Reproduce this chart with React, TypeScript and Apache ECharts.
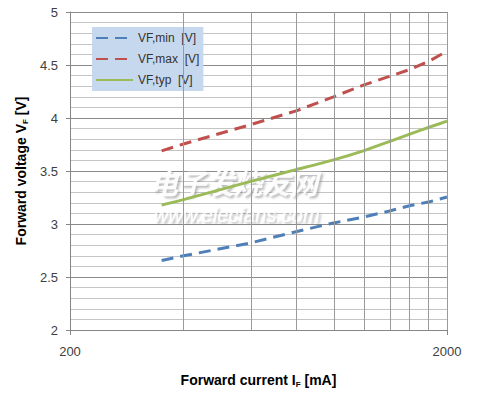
import React, { useEffect, useRef } from "react";
import * as echarts from "echarts";

const currents = [350, 400, 600, 800, 1000, 1200, 1400, 1600, 1800, 2000];
const vfMin = [2.655, 2.7, 2.82, 2.93, 3.01, 3.065, 3.12, 3.175, 3.21, 3.255];
const vfMax = [3.69, 3.755, 3.935, 4.07, 4.2, 4.31, 4.39, 4.46, 4.54, 4.63];
const vfTyp = [3.18, 3.23, 3.4, 3.515, 3.605, 3.69, 3.775, 3.85, 3.915, 3.97];
const gridCurrents = [400, 600, 800, 1000, 1200, 1400, 1600, 1800, 2000];
const seriesNames = ["VF,min  [V]", "VF,max  [V]", "VF,typ  [V]"];
const xBase = 200;

const lx = (i: number) => Math.log10(i / xBase);

export default function App() {
  const ref = useRef<HTMLDivElement>(null);
  useEffect(() => {
    if (!ref.current) return;
    const chart = echarts.init(ref.current, null, { renderer: "svg" });
    const font = "Liberation Sans, Arial, sans-serif";
    const pts = (ys: number[]) => currents.map((c, i) => [lx(c), ys[i]]);
    const nameRich = {
      a: { fontSize: 14, fontWeight: "bold", color: "#000", fontFamily: font, lineHeight: 17 },
      s: { fontSize: 8, fontWeight: "bold", color: "#000", fontFamily: font, verticalAlign: "bottom", lineHeight: 13 },
    };
    chart.setOption({
      animation: false,
      textStyle: { fontFamily: font },
      grid: { left: 70, right: 30, top: 12, bottom: 64 },
      legend: {
        left: 92,
        top: 27,
        orient: "vertical",
        data: seriesNames,
        backgroundColor: "#c6d8ee",
        padding: [5, 4, 5, 3],
        itemWidth: 37,
        itemHeight: 14,
        itemGap: 9,
        itemStyle: { opacity: 0, borderWidth: 0 },
        textStyle: { fontSize: 12, color: "#333", fontFamily: font },
      },
      xAxis: {
        type: "value",
        min: 0,
        max: 1,
        interval: 1,
        name: "{a|Forward current I}{s|F}{a| [mA]}",
        nameLocation: "middle",
        nameGap: 41,
        nameTextStyle: { rich: nameRich },
        axisLine: { show: true, lineStyle: { color: "#868686", width: 1 } },
        axisTick: { show: true, length: 5, lineStyle: { color: "#868686" } },
        axisLabel: {
          margin: 15,
          fontSize: 13,
          color: "#404040",
          formatter: (v: number) => String(Math.round(xBase * Math.pow(10, v))),
        },
        splitLine: { show: false },
      },
      yAxis: {
        type: "value",
        min: 2,
        max: 5,
        interval: 0.5,
        name: "{a|Forward voltage V}{s|F}{a| [V]}",
        nameLocation: "middle",
        nameGap: 37,
        nameRotate: 90,
        nameTextStyle: { rich: nameRich },
        axisLine: { show: true, lineStyle: { color: "#868686", width: 1 } },
        axisTick: { show: true, length: 4, lineStyle: { color: "#868686" } },
        axisLabel: { margin: 12, fontSize: 13, color: "#404040" },
        splitLine: { show: true, lineStyle: { color: "#8a8a8a", width: 1 } },
        minorTick: { show: false, splitNumber: 5 },
        minorSplitLine: { show: true, lineStyle: { color: "#c4c4c4", width: 1 } },
      },
      graphic: [
        {
          type: "text",
          left: 150,
          top: 168,
          z: 2,
          style: {
            text: "电子发烧友网",
            fill: "rgba(255,255,255,0.92)",
            font: "italic bold 28px 'Noto Sans CJK SC'",
            textShadowColor: "rgba(130,130,130,0.6)",
            textShadowBlur: 2,
            textShadowOffsetX: 2,
            textShadowOffsetY: 2,
          },
        },
        {
          type: "text",
          left: 154,
          top: 205,
          z: 2,
          style: {
            text: "www.elecfans.com",
            fill: "rgba(255,255,255,0.92)",
            font: "italic 20px 'Liberation Sans', Arial, sans-serif",
            textShadowColor: "rgba(130,130,130,0.6)",
            textShadowBlur: 2,
            textShadowOffsetX: 2,
            textShadowOffsetY: 2,
          },
        },
      ],
      series: [
        {
          type: "line",
          name: "grid",
          data: [],
          z: 0,
          silent: true,
          markLine: {
            silent: true,
            symbol: "none",
            label: { show: false },
            lineStyle: { color: "#9a9a9a", width: 1, type: "solid" },
            data: gridCurrents.map((c) => ({ xAxis: lx(c) })),
          },
        },
        {
          type: "line",
          name: seriesNames[0],
          data: pts(vfMin),
          showSymbol: false,
          symbol: "none",
          z: 3,
          lineStyle: { color: "#4f7fb8", width: 3, type: [12, 7] },
          itemStyle: { color: "#4f7fb8" },
        },
        {
          type: "line",
          name: seriesNames[1],
          data: pts(vfMax),
          showSymbol: false,
          symbol: "none",
          z: 3,
          lineStyle: { color: "#c0504d", width: 3, type: [12, 7] },
          itemStyle: { color: "#c0504d" },
        },
        {
          type: "line",
          name: seriesNames[2],
          data: pts(vfTyp),
          showSymbol: false,
          symbol: "none",
          smooth: 0.2,
          z: 3,
          lineStyle: { color: "#9bbb59", width: 3, type: "solid" },
          itemStyle: { color: "#9bbb59" },
        },
      ],
    });
    return () => chart.dispose();
  }, []);
  return <div ref={ref} style={{ width: 477, height: 394, position: "absolute", left: 0, top: 0, background: "#fff" }} />;
}
